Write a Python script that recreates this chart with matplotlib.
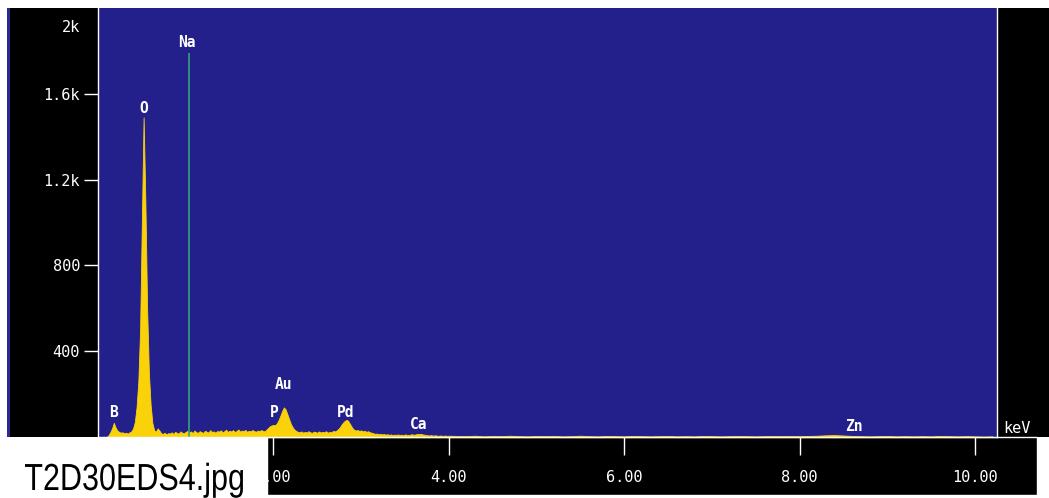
import numpy as np
import matplotlib
matplotlib.use("Agg")
import matplotlib.pyplot as plt
from matplotlib.patches import Rectangle, PathPatch
from matplotlib.textpath import TextPath
from matplotlib.font_manager import FontProperties
from matplotlib.transforms import Affine2D

# spectrum, 0 - 4 keV read at 0.02 keV per channel
low_step = 0.02
low_counts = [
    0, 0, 0, 0, 0, 0, 8, 22, 40, 66,
    45, 30, 24, 20, 22, 17, 20, 16, 22, 26,
    40, 70, 140, 260, 500, 1000, 1490, 1100, 600, 300,
    150, 65, 32, 24, 40, 30, 18, 14, 20, 12,
    18, 16, 22, 14, 24, 19, 16, 26, 20, 17,
    24, 28, 21, 26, 18, 30, 22, 20, 27, 23,
    19, 29, 24, 21, 32, 23, 26, 20, 28, 25,
    31, 22, 27, 34, 24, 29, 26, 32, 23, 28,
    35, 25, 30, 27, 33, 24, 29, 26, 32, 28,
    24, 30, 27, 32, 29, 26, 34, 42, 50, 54,
    56, 55, 64, 80, 100, 122, 138, 128, 105, 82,
    60, 45, 34, 28, 24, 22, 26, 20, 24, 21,
    27, 22, 19, 25, 23, 20, 26, 21, 24, 22,
    27, 20, 24, 22, 28, 26, 30, 37, 47, 60,
    70, 77, 80, 70, 56, 42, 34, 30, 33, 28,
    31, 26, 29, 24, 27, 22, 20, 17, 15, 16,
    13, 15, 12, 14, 11, 13, 10, 12, 9, 11,
    10, 12, 9, 11, 8, 12, 10, 9, 11, 13,
    10, 12, 14, 13, 15, 12, 11, 9, 8, 7,
    9, 6, 8, 7, 5, 7, 6, 5, 7, 5,
    6,
]
# 4.1 - 10.2 keV, read at 0.1 keV
high_start = 4.1
high_step = 0.1
high_counts = [
    5, 4, 6, 3, 5, 4, 6, 4, 3, 5,
    4, 5, 3, 4, 6, 4, 3, 5, 4, 3,
    5, 4, 3, 4, 5, 3, 4, 3, 5, 4,
    3, 4, 5, 4, 3, 4, 5, 4, 5, 4,
    5, 6, 8, 9, 7, 5, 4, 3, 4, 5,
    3, 4, 3, 4, 3, 5, 4, 3, 4, 3,
    2, 3,
]

kev = np.concatenate([np.arange(len(low_counts)) * low_step,
                      high_start + np.arange(len(high_counts)) * high_step])
counts = np.array(low_counts + high_counts, dtype=float)

na_line_kev = 1.04
na_line_top = 1790

peak_labels = ["B", "O", "Na", "Au", "P", "Pd", "Ca", "Zn"]
peak_label_kev = [0.18, 0.52, 1.01, 2.12, 2.01, 2.82, 3.66, 8.62]
peak_label_counts = [116, 1530, 1841, 246, 116, 116, 56, 51]

ytick_vals = [400, 800, 1200, 1600]
ytick_text = ["400", "800", "1.2k", "1.6k"]
xtick_vals = [2, 4, 6, 8, 10]
xtick_text = ["2.00", "4.00", "6.00", "8.00", "10.00"]

W, H = 1049, 498
BLUE = "#23208c"
GOLD = "#fad20a"
GREEN = "#35a07a"
MONO = "DejaVu Sans Mono"


def box(x0, y0, x1, y1, **kw):
    # pixel box, y measured from the top of the picture
    return Rectangle((x0 / W, 1 - y1 / H), (x1 - x0) / W, (y1 - y0) / H,
                     transform=fig.transFigure, **kw)


fig = plt.figure(figsize=(W / 100, H / 100), dpi=100, facecolor="white")

fig.patches.append(box(7, 8, 10, 437, facecolor="#2a2a90", lw=0, zorder=-2))
fig.patches.append(box(10, 8, 1049, 437, facecolor="black", lw=0, zorder=-2))
fig.patches.append(box(267, 437, 1037, 495, facecolor="black",
                       edgecolor="white", lw=1, zorder=-1))

ax = fig.add_axes([98 / W, (H - 437) / H, (997 - 98) / W, (437 - 8) / H])
ax.set_facecolor(BLUE)
ax.fill_between(kev, counts, color=GOLD, lw=0.6, edgecolor=GOLD)
ax.vlines(na_line_kev, 0, na_line_top, color=GREEN, lw=1.2)

for lab, x, y in zip(peak_labels, peak_label_kev, peak_label_counts):
    ax.text(x, y, lab, ha="center", va="center", color="white",
            fontsize=10.5, fontweight="bold", family=MONO)

ax.set_xlim(0, 10.25)
ax.set_ylim(0, 2000)
ax.set_yticks(ytick_vals, ytick_text)
ax.set_xticks(xtick_vals, xtick_text)
ax.tick_params(axis="y", colors="white", direction="out", length=10,
               width=1, pad=3, labelsize=11)
ax.tick_params(axis="x", colors="white", direction="out", length=13,
               width=1, pad=11, labelsize=11)
for t in ax.get_xticklabels() + ax.get_yticklabels():
    t.set_family(MONO)

for side in ("left", "bottom", "right"):
    ax.spines[side].set_color("white")
    ax.spines[side].set_linewidth(1)
ax.spines["top"].set_visible(False)

ax.annotate("2k", xy=(0, 1), xycoords="axes fraction", xytext=(-18, -19),
            textcoords="offset pixels", ha="right", va="center",
            color="white", fontsize=11, family=MONO)
fig.text(1017 / W, 1 - 428 / H, "keV", ha="center", va="center",
         color="white", fontsize=11, family=MONO)

# white file-name tag pasted over the lower left corner
fig.patches.append(box(0, 437, 267, 498, facecolor="white", lw=0, zorder=5))
tp = TextPath((0, 0), "T2D30EDS4.jpg", size=37.7,
              prop=FontProperties(family="Liberation Sans"))
ext = tp.get_extents()
sx = 218 / ext.width
tf = (Affine2D().translate(-ext.x0, 0).scale(sx, 1).translate(25, 8)
      .scale(1 / W, 1 / H) + fig.transFigure)
fig.patches.append(PathPatch(tp, transform=tf, facecolor="black", lw=0,
                             zorder=6))

fig.savefig("out.png", dpi=100, facecolor="white")
